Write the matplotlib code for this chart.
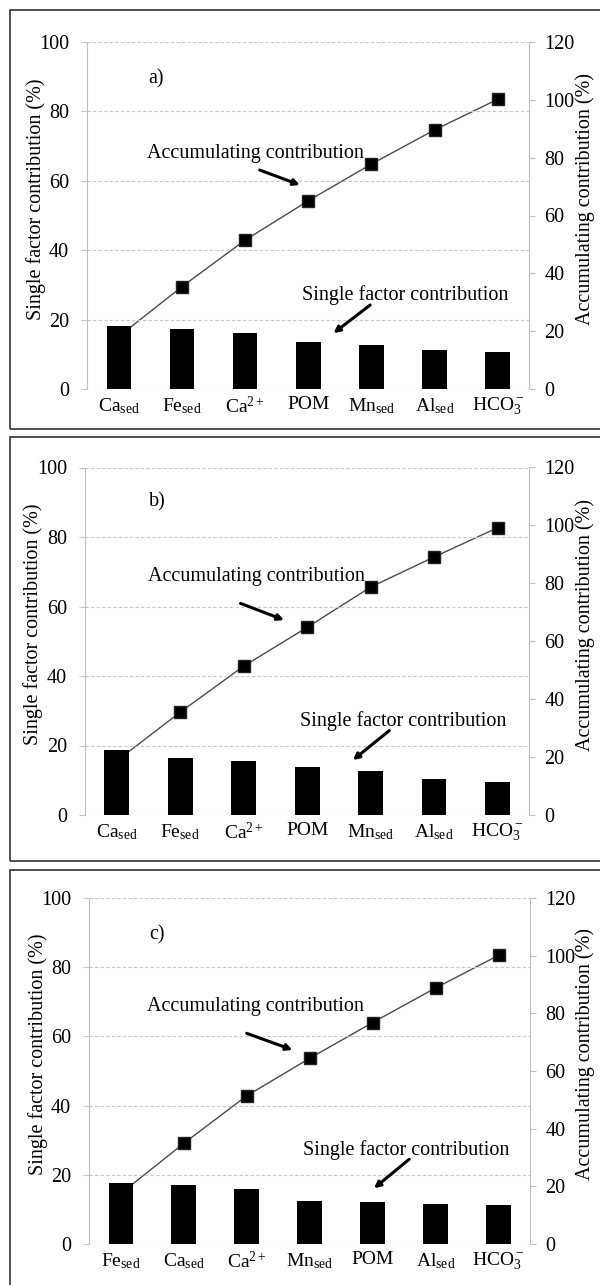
import matplotlib

matplotlib.use("Agg")
import matplotlib.pyplot as plt
from matplotlib.patches import Rectangle

plt.rcParams["font.family"] = ["Liberation Serif", "DejaVu Serif"]
plt.rcParams["mathtext.fontset"] = "custom"
plt.rcParams["mathtext.rm"] = "Liberation Serif"
plt.rcParams["mathtext.it"] = "Liberation Serif:italic"

W, H = 600, 1285

# --- data ---
labels_a = [r"Ca$_{\rm sed}$", r"Fe$_{\rm sed}$", r"Ca$^{2+}$", "POM",
            r"Mn$_{\rm sed}$", r"Al$_{\rm sed}$", r"HCO$_3^-$"]
single_a = [18.2, 17.2, 16.2, 13.5, 12.7, 11.2, 10.6]
accum_a = [18.2, 35.4, 51.5, 65.1, 77.8, 89.6, 100.2]

labels_b = [r"Ca$_{\rm sed}$", r"Fe$_{\rm sed}$", r"Ca$^{2+}$", "POM",
            r"Mn$_{\rm sed}$", r"Al$_{\rm sed}$", r"HCO$_3^-$"]
single_b = [18.7, 16.4, 15.5, 13.7, 12.8, 10.4, 9.5]
accum_b = [18.7, 35.5, 51.4, 64.8, 78.7, 89.1, 99.2]

labels_c = [r"Fe$_{\rm sed}$", r"Ca$_{\rm sed}$", r"Ca$^{2+}$", r"Mn$_{\rm sed}$",
            "POM", r"Al$_{\rm sed}$", r"HCO$_3^-$"]
single_c = [17.5, 17.0, 15.9, 12.5, 12.2, 11.6, 11.3]
accum_c = [17.5, 34.9, 51.4, 64.4, 76.8, 88.8, 100.1]

# panel layout in pixels: (left, right, top, bottom) of the axes, box top/bottom
PANELS = [
    dict(tag="a)", labels=labels_a, single=single_a, accum=accum_a,
         ax_px=(87.3, 529.3, 42, 389), box=(10, 429),
         tag_xy=(0.137, 0.893), acc_xy=(0.135, 0.680),
         acc_arrow=((0.390, 0.631), (0.481, 0.588)),
         sf_xy=(0.485, 0.271), sf_arrow=((0.640, 0.242), (0.557, 0.161))),
    dict(tag="b)", labels=labels_b, single=single_b, accum=accum_b,
         ax_px=(85, 529.3, 467.5, 815), box=(437, 860.7),
         tag_xy=(0.143, 0.902), acc_xy=(0.141, 0.686),
         acc_arrow=((0.350, 0.609), (0.448, 0.561)),
         sf_xy=(0.484, 0.271), sf_arrow=((0.685, 0.243), (0.603, 0.158))),
    dict(tag="c)", labels=labels_c, single=single_c, accum=accum_c,
         ax_px=(89.3, 530, 898, 1244), box=(870, 1290),
         tag_xy=(0.135, 0.893), acc_xy=(0.132, 0.686),
         acc_arrow=((0.357, 0.609), (0.461, 0.561)),
         sf_xy=(0.486, 0.272), sf_arrow=((0.726, 0.245), (0.646, 0.161))),
]

FS = 14.5
SPINE = "#bdbdbd"
GRID = "#c8c8c8"

fig = plt.figure(figsize=(W / 100, H / 100), dpi=100)

for p in PANELS:
    l, r, t, b = p["ax_px"]
    ax2 = fig.add_axes([l / W, 1 - b / H, (r - l) / W, (b - t) / H])
    ax = ax2.twinx()
    # bars drawn above the cumulative line
    ax2.set_zorder(1)
    ax.set_zorder(0)
    ax2.patch.set_visible(False)
    # ax2 -> left axis (bars), ax -> right axis (cumulative)
    ax2.yaxis.tick_left()
    ax2.yaxis.set_label_position("left")
    ax.yaxis.tick_right()
    ax.yaxis.set_label_position("right")

    x = range(len(p["labels"]))
    ax.plot(x, p["accum"], color="#4a4a4a", lw=1.0, marker="s", ms=9,
            mfc="black", mec="#222222", zorder=2)
    ax2.bar(x, p["single"], width=0.39, color="black", zorder=3)

    ax2.set_xlim(-0.5, len(p["labels"]) - 0.5)
    ax2.set_ylim(0, 100)
    ax2.set_yticks(range(0, 101, 20))
    ax.set_ylim(0, 120)
    ax.set_yticks(range(0, 121, 20))
    ax2.set_xticks(list(x))
    ax2.set_xticklabels(p["labels"], fontsize=14)

    ax2.set_axisbelow(True)
    ax2.yaxis.grid(True, ls=(0, (3, 2)), color=GRID, lw=0.8)
    for a in (ax, ax2):
        for s in ("top", "bottom"):
            a.spines[s].set_visible(False)
        a.spines["left"].set_color(SPINE)
        a.spines["right"].set_color(SPINE)
    ax.spines["left"].set_visible(False)
    ax2.spines["right"].set_visible(False)

    ax2.tick_params(axis="x", length=0, pad=5)
    ax2.tick_params(axis="y", length=4, color=GRID, pad=9, labelsize=FS)
    ax.tick_params(axis="y", length=4, color=SPINE, pad=7, labelsize=FS)

    ax2.set_ylabel("Single factor contribution (%)", fontsize=FS)
    ax2.yaxis.set_label_coords(-0.094, 0.548)
    ax.set_ylabel("Accumulating contribution (%)", fontsize=FS)
    ax.yaxis.set_label_coords(1.103, 0.548)

    ax2.text(*p["tag_xy"], p["tag"], transform=ax2.transAxes, fontsize=FS,
             ha="left", va="center")
    ax2.text(*p["acc_xy"], "Accumulating contribution", transform=ax2.transAxes,
             fontsize=FS, ha="left", va="center")
    ax2.text(*p["sf_xy"], "Single factor contribution", transform=ax2.transAxes,
             fontsize=FS, ha="left", va="center")
    for tail, head in (p["acc_arrow"], p["sf_arrow"]):
        ax2.annotate("", xy=head, xytext=tail, xycoords="axes fraction",
                     textcoords="axes fraction",
                     arrowprops=dict(arrowstyle="-|>", lw=2.2, color="black",
                                     mutation_scale=9, shrinkA=0, shrinkB=0))

    y0, y1 = p["box"]
    fig.add_artist(Rectangle((10 / W, 1 - y1 / H), 600 / W, (y1 - y0) / H,
                             transform=fig.transFigure, fill=False,
                             ec="#333333", lw=1.2))

fig.savefig("out.png", dpi=100)
